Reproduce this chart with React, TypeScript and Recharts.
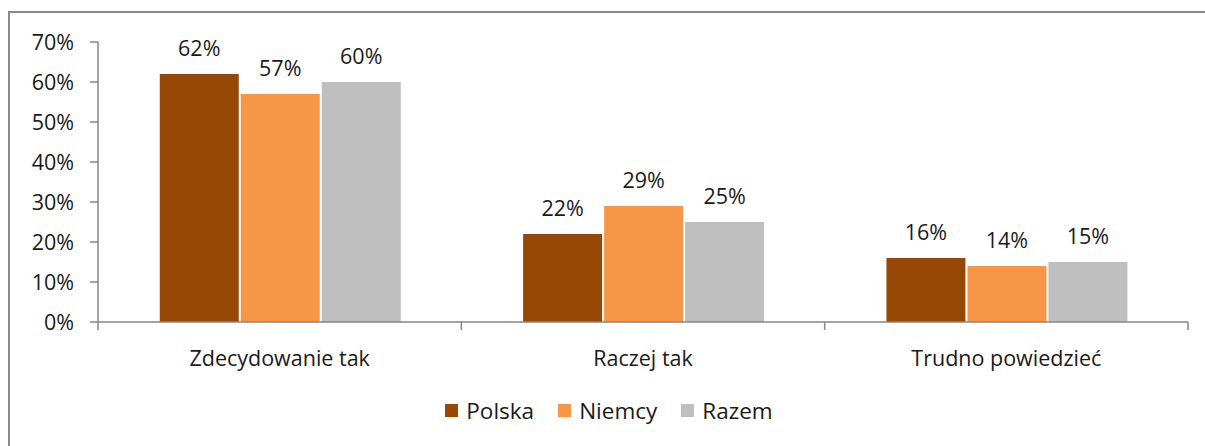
import { BarChart, Bar, XAxis, YAxis, LabelList, Legend } from 'recharts';

const categories = ['Zdecydowanie tak', 'Raczej tak', 'Trudno powiedzieć'];
const polska = [62, 22, 16];
const niemcy = [57, 29, 14];
const razem = [60, 25, 15];
const yTicks = [0, 10, 20, 30, 40, 50, 60, 70];

const series = [
  { key: 'polska', name: 'Polska', color: '#974706' },
  { key: 'niemcy', name: 'Niemcy', color: '#F79646' },
  { key: 'razem', name: 'Razem', color: '#BFBFBF' },
];

const chartData = categories.map((name, i) => ({
  name,
  polska: polska[i],
  niemcy: niemcy[i],
  razem: razem[i],
}));

const FONT = '"Open Sans", sans-serif';
const FS = 21.5;
const AXIS = '#868686';
const LABEL_GAP = 29;

// category label plus the boundary tick marks Excel draws between groups
function CategoryTick(props: any) {
  const { x, y, payload, index } = props;
  const half = payload.offset || 0;
  const axisY = y - LABEL_GAP;
  return (
    <g>
      {index === 0 && <line x1={x - half} x2={x - half} y1={axisY} y2={axisY + 8} stroke={AXIS} strokeWidth={1.5} />}
      <line x1={x + half} x2={x + half} y1={axisY} y2={axisY + 8} stroke={AXIS} strokeWidth={1.5} />
      <text x={x} y={y} dy="0.71em" textAnchor="middle" fill="#1a1a1a" fontSize={FS} fontFamily={FONT}>
        {payload.value}
      </text>
    </g>
  );
}

function LegendContent() {
  return (
    <div style={{ display: 'flex', justifyContent: 'center', alignItems: 'center', height: 28, fontFamily: FONT, fontSize: 22.5, color: '#1a1a1a' }}>
      {series.map((s) => (
        <div key={s.key} style={{ display: 'flex', alignItems: 'center', margin: '0 12px' }}>
          <div style={{ width: 13, height: 13, background: s.color, marginRight: 8 }} />
          <span>{s.name}</span>
        </div>
      ))}
    </div>
  );
}

export default function App() {
  return (
    <div style={{ position: 'fixed', left: 0, top: 0, width: 1205, height: 446, overflow: 'hidden', background: '#fff' }}>
      <div style={{ position: 'absolute', left: 8, top: 11, width: 1240, height: 480, border: '2px solid #8a8a8a', boxSizing: 'border-box' }} />
      <div style={{ position: 'absolute', left: 0, top: 0 }}>
        <BarChart
          width={1205}
          height={446}
          data={chartData}
          margin={{ top: 42, right: 17, left: 30, bottom: 22 }}
          barCategoryGap="17%"
          barGap={2}
          style={{ fontFamily: FONT }}
        >
          <XAxis
            dataKey="name"
            axisLine={{ stroke: AXIS, strokeWidth: 1.5 }}
            tickLine={false}
            tickSize={0}
            tickMargin={LABEL_GAP}
            height={74}
            interval={0}
            tick={<CategoryTick />}
          />
          <YAxis
            domain={[0, 70]}
            ticks={yTicks}
            tickFormatter={(v: number) => `${v}%`}
            width={68}
            axisLine={{ stroke: AXIS, strokeWidth: 1.5 }}
            tickLine={{ stroke: AXIS, strokeWidth: 1.5 }}
            tickSize={8}
            tickMargin={16}
            tick={{ fill: '#1a1a1a', fontSize: FS }}
          />
          <Legend content={<LegendContent />} verticalAlign="bottom" height={28} />
          {series.map((s) => (
            <Bar key={s.key} dataKey={s.key} name={s.name} fill={s.color} isAnimationActive={false}>
              <LabelList
                dataKey={s.key}
                position="top"
                offset={18}
                formatter={(v: number) => `${v}%`}
                style={{ fill: '#1a1a1a', fontSize: FS, fontFamily: FONT }}
              />
            </Bar>
          ))}
        </BarChart>
      </div>
    </div>
  );
}
